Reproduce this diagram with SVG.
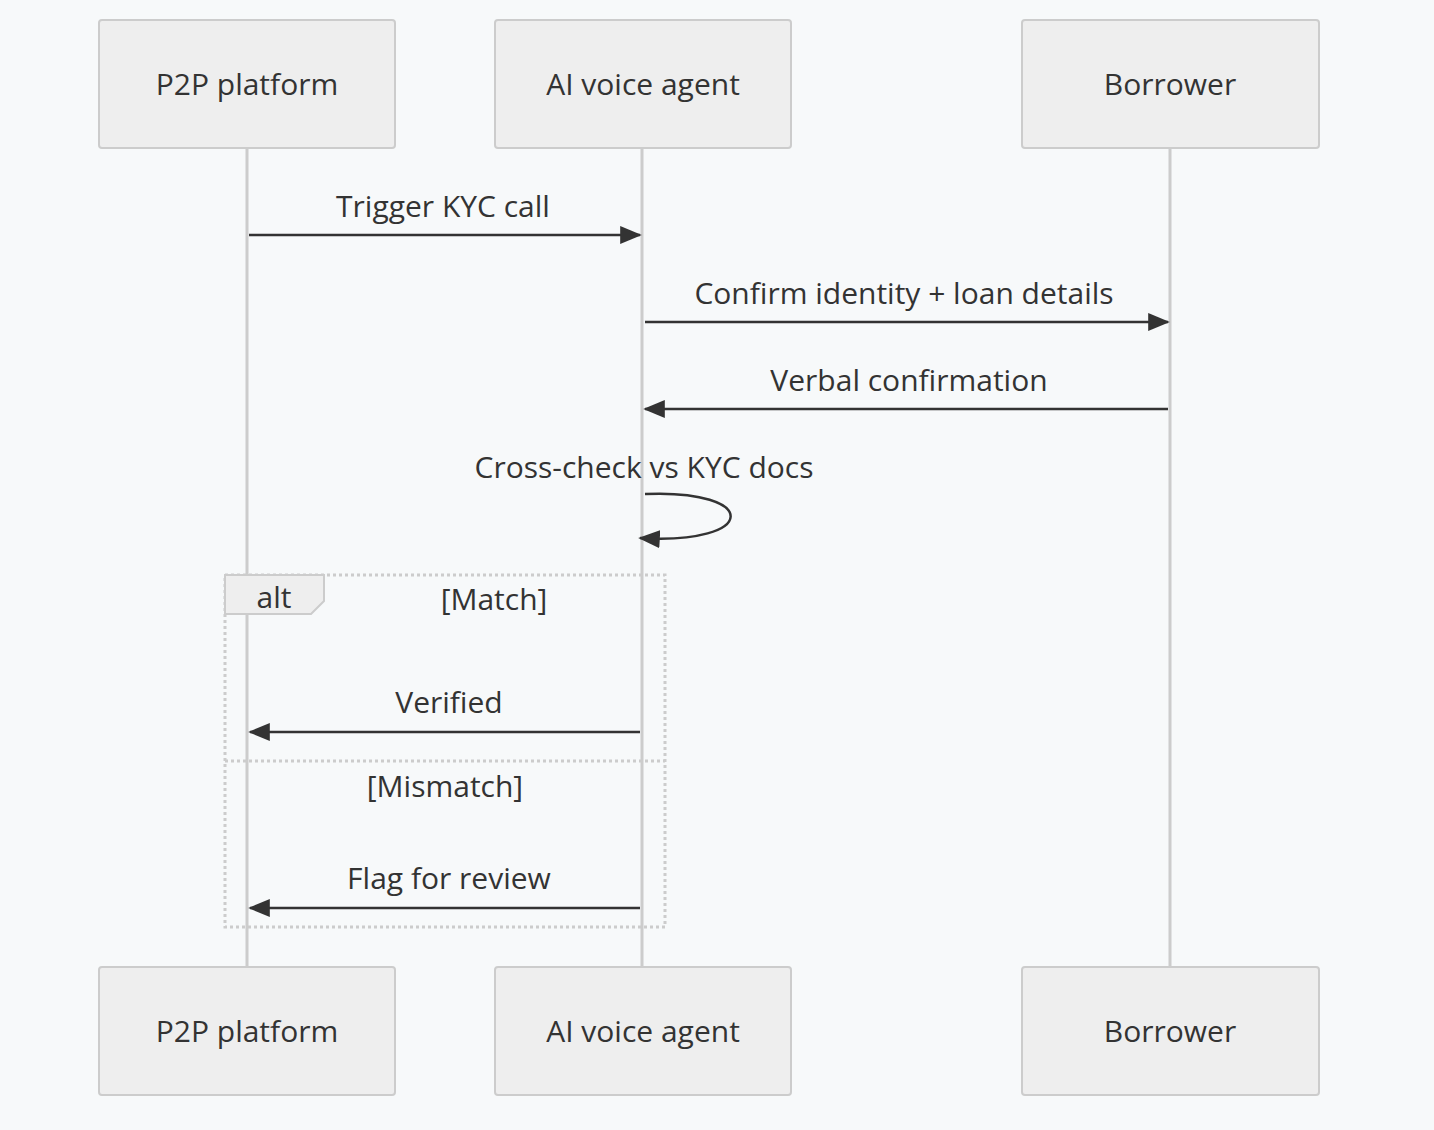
<svg xmlns="http://www.w3.org/2000/svg" width="1434" height="1130" viewBox="0 0 1434 1130">
<style>
text{font-family:"Open Sans","Liberation Sans",sans-serif;font-size:30px;fill:#333;text-anchor:middle}
.actor rect{fill:#eee;stroke:#ccc;stroke-width:2}
.life{stroke:#ccc;stroke-width:3}
.msg{stroke:#333;stroke-width:2.5;fill:none}
.frame{stroke:#ccc;stroke-width:3;fill:none;stroke-dasharray:3 3}
</style>
<defs>
<marker id="ah2" viewBox="0 0 12 10" refX="11" refY="5" markerWidth="22" markerHeight="18" markerUnits="userSpaceOnUse" orient="auto"><path d="M0,0L12,5L0,10z" fill="#333"/></marker></defs>
<rect width="1434" height="1130" fill="#f7f9fa"/>
<g id="lifelines">
<line class="life" x1="247" y1="148" x2="247" y2="967"/>
<line class="life" x1="642" y1="148" x2="642" y2="967"/>
<line class="life" x1="1170" y1="148" x2="1170" y2="967"/>
</g>
<g id="a1" class="actor"><rect x="99" y="20" width="296" height="128" rx="3"/><text x="247" y="95">P2P platform</text></g>
<g id="a2" class="actor"><rect x="495" y="20" width="296" height="128" rx="3"/><text x="643" y="95">AI voice agent</text></g>
<g id="a3" class="actor"><rect x="1022" y="20" width="297" height="128" rx="3"/><text x="1170" y="95">Borrower</text></g>
<g id="a1b" class="actor"><rect x="99" y="967" width="296" height="128" rx="3"/><text x="247" y="1042">P2P platform</text></g>
<g id="a2b" class="actor"><rect x="495" y="967" width="296" height="128" rx="3"/><text x="643" y="1042">AI voice agent</text></g>
<g id="a3b" class="actor"><rect x="1022" y="967" width="297" height="128" rx="3"/><text x="1170" y="1042">Borrower</text></g>
<g id="alt">
<rect class="frame" x="225" y="575" width="440" height="352"/>
<path d="M225,575H324V601L311,614H225Z" fill="#eee" stroke="#ccc" stroke-width="2"/>
<text x="274" y="608">alt</text>
<text x="494" y="610">[Match]</text>
<line class="frame" x1="225" y1="761" x2="665" y2="761"/>
<text x="445" y="797">[Mismatch]</text>
</g>
<g id="connectors">
<line class="msg" x1="249" y1="235" x2="640" y2="235" marker-end="url(#ah2)"/>
<text x="443" y="217">Trigger KYC call</text>
<line class="msg" x1="645" y1="322" x2="1168" y2="322" marker-end="url(#ah2)"/>
<text x="904" y="304">Confirm identity + loan details</text>
<line class="msg" x1="1168" y1="409" x2="645" y2="409" marker-end="url(#ah2)"/>
<text x="909" y="391">Verbal confirmation</text>
<text x="644" y="478">Cross-check vs KYC docs</text>
<path class="msg" d="M645,494C760,489 760,545 640,538" marker-end="url(#ah2)"/>
<line class="msg" x1="640" y1="732" x2="250" y2="732" marker-end="url(#ah2)"/>
<text x="449" y="713">Verified</text>
<line class="msg" x1="640" y1="908" x2="250" y2="908" marker-end="url(#ah2)"/>
<text x="449" y="889">Flag for review</text>
</g>
</svg>
